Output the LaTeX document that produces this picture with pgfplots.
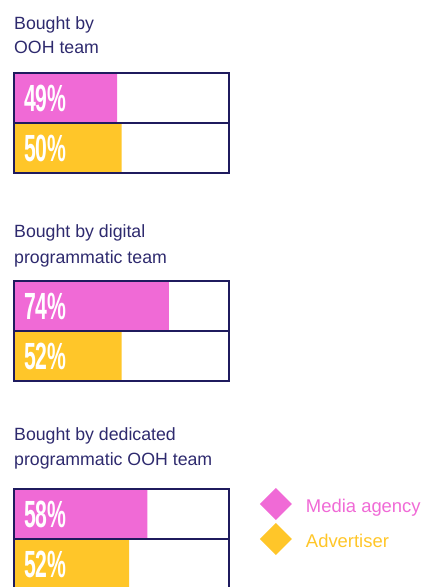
\documentclass[border=0pt]{standalone}
\usepackage{pgfplots}
\pgfplotsset{compat=1.18}
\usepackage{graphicx}
\usepackage{fontspec}
\setmainfont{Liberation Sans}

\definecolor{cPink}{RGB}{240,106,214}
\definecolor{cYellow}{RGB}{255,198,41}
\definecolor{cNavy}{RGB}{31,27,94}
\definecolor{cText}{RGB}{46,42,110}

% drawn bar lengths (percent of box)
\pgfplotstableread{
y    v
98   48
306  72
514  62
}\agency
\pgfplotstableread{
y    v
148  50
356  50
564  53.5
}\advertiser

\begin{document}
\begin{tikzpicture}
\tikzset{
  pct/.style={anchor=west, inner sep=0pt, text=white,
    font=\fontsize{38}{38}\selectfont\bfseries},
  ttl/.style={anchor=base west, inner sep=0pt, text=cText,
    font=\fontsize{17.8}{21}\selectfont},
}
\begin{axis}[
  scale only axis, width=430bp, height=587bp,
  xmin=-6.5116, xmax=193.4884, ymin=0, ymax=587, y dir=reverse,
  hide axis, clip=false,
  legend style={at={(axis cs:114.4,488)}, anchor=north west,
    draw=none, fill=none, inner sep=0pt, outer sep=0pt, row sep=3bp,
    font=\fontsize{18.5}{18.5}\selectfont,
    nodes={inner sep=0pt},
    /tikz/every odd column/.style={column sep=14bp}},
  legend cell align=left,
  legend image code/.code={%
    \path[#1] (0bp,-13.5bp) -- (16bp,2.5bp) -- (0bp,18.5bp) -- (-16bp,2.5bp) -- cycle;},
]
\addplot[xbar, bar shift=0pt, bar width=50, fill=cPink, draw=none, forget plot]
  table[x=v, y=y] {\agency};
\addplot[xbar, bar shift=0pt, bar width=50, fill=cYellow, draw=none, forget plot]
  table[x=v, y=y] {\advertiser};
% box outlines (100 %)
\addplot[xbar, bar shift=0pt, bar width=50, fill=none, draw=cNavy, line width=1.6bp, forget plot]
  coordinates {(100,98) (100,148) (100,306) (100,356) (100,514) (100,564)};

\node[pct] at (axis cs:4.65,98.5)  {\scalebox{0.56}[1]{49\%}};
\node[pct] at (axis cs:4.65,148.5) {\scalebox{0.56}[1]{50\%}};
\node[pct] at (axis cs:4.65,306.5) {\scalebox{0.56}[1]{74\%}};
\node[pct] at (axis cs:4.65,356.5) {\scalebox{0.56}[1]{52\%}};
\node[pct] at (axis cs:4.65,514.5) {\scalebox{0.56}[1]{58\%}};
\node[pct] at (axis cs:4.65,564.5) {\scalebox{0.56}[1]{52\%}};

\node[ttl] at (axis cs:0,29.5)  {Bought by};
\node[ttl] at (axis cs:0,53.5)  {OOH team};
\node[ttl] at (axis cs:0,237.5) {Bought by digital};
\node[ttl] at (axis cs:0,263.5) {programmatic team};
\node[ttl] at (axis cs:0,440)   {Bought by dedicated};
\node[ttl] at (axis cs:0,465)   {programmatic OOH team};

\addlegendimage{fill=cPink, draw=none}
\addlegendentry{\textcolor{cPink}{Media agency}}
\addlegendimage{fill=cYellow, draw=none}
\addlegendentry{\textcolor{cYellow}{Advertiser}}

\coordinate (bbsw) at (rel axis cs:0,1);
\coordinate (bbne) at (rel axis cs:1,0);
\end{axis}
\pgfresetboundingbox
\path[use as bounding box] (bbsw) rectangle (bbne);
\end{tikzpicture}
\end{document}
